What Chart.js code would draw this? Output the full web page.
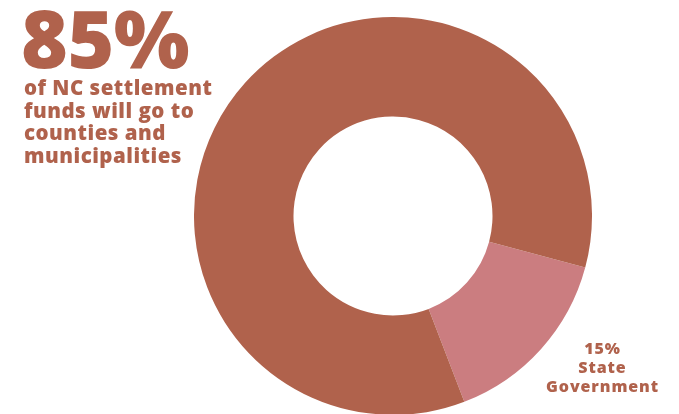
<!DOCTYPE html>
<html>
<head>
<meta charset="utf-8">
<script src="https://cdn.jsdelivr.net/npm/chart.js@4/dist/chart.umd.min.js"></script>
<style>
  html, body { margin:0; padding:0; width:679px; height:414px; overflow:hidden; background:#fff; }
  #wrap { position:absolute; left:194px; top:17px; width:398px; height:398px; }
  .txt { position:absolute; color:#B0624C; font-family:"Open Sans", sans-serif; font-weight:800; white-space:nowrap; }
  #big { left:21px; top:-8px; font-size:80px; line-height:90px; letter-spacing:-0.5px; }
  #sub { left:24px; top:76px; font-size:20.5px; line-height:22.5px; letter-spacing:0.5px; }
  #lab { left:536px; top:339px; width:133px; text-align:center; font-size:16px; line-height:19px; letter-spacing:0.9px; }
</style>
</head>
<body>
<div id="wrap"><canvas id="c"></canvas></div>
<div class="txt" id="big"></div>
<div class="txt" id="sub"></div>
<div class="txt" id="lab"></div>
<script>
const categories = ['State Government', 'Counties and municipalities'];
const values = [15, 85];
const colors = ['#CB7D80', '#B0624C'];
const headlineLines = ['of NC settlement', 'funds will go to', 'counties and', 'municipalities'];
const sliceLabelLines = ['State', 'Government'];

document.getElementById('big').textContent = values[1] + '%';
document.getElementById('sub').innerHTML = headlineLines.join('<br>');
document.getElementById('lab').innerHTML = [values[0] + '%'].concat(sliceLabelLines).join('<br>');

new Chart(document.getElementById('c'), {
  type: 'doughnut',
  data: {
    labels: categories,
    datasets: [{ data: values, backgroundColor: colors, borderWidth: 0, hoverOffset: 0 }]
  },
  options: {
    responsive: true,
    maintainAspectRatio: false,
    animation: false,
    cutout: '50%',
    rotation: 105,
    layout: { padding: 0 },
    plugins: { legend: { display: false }, tooltip: { enabled: false } }
  }
});
</script>
</body>
</html>
